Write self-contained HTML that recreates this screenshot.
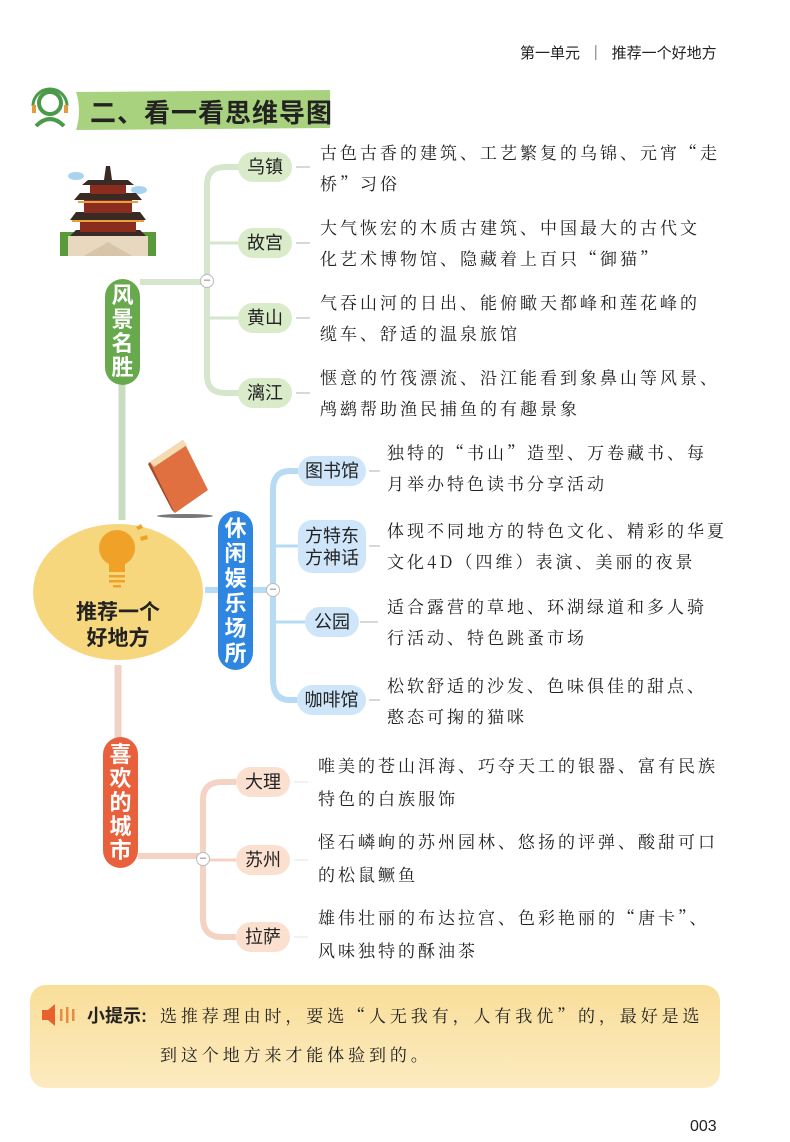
<!DOCTYPE html>
<html><head><meta charset="utf-8"><style>
*{margin:0;padding:0;box-sizing:border-box}
body{width:790px;height:1142px;background:#fff;position:relative;overflow:hidden;font-family:"Liberation Sans","Noto Sans CJK SC",sans-serif}
.a{position:absolute}
.d{position:absolute;font-family:"Noto Serif CJK SC","Liberation Serif",serif;font-size:17px;letter-spacing:3px;line-height:31px;color:#222;white-space:nowrap}
.n{position:absolute;font-size:18px;color:#222;text-align:center;border-radius:16px;display:flex;align-items:center;justify-content:center;line-height:22px}
.g{background:#d9ebc9}.b{background:#cfe6fa}.r{background:#fbe0d0}
.v{position:absolute;color:#fff;font-weight:bold;font-size:22px;line-height:24px;text-align:center;border-radius:18px;display:flex;flex-direction:column;align-items:center;justify-content:center}
.m{position:absolute;width:14px;height:14px;border-radius:50%;background:#fff;border:1.5px solid #bbb;font-size:11px;line-height:10px;text-align:center;color:#666}
</style></head><body>
<div class="a" style="left:520px;top:42px;font-size:15px;color:#222;white-space:nowrap">第一单元 &nbsp;｜ &nbsp;推荐一个好地方</div>

<svg class="a" style="left:0;top:0" width="790" height="1142">
<circle cx="50" cy="103" r="11" fill="none" stroke="#4a9a4a" stroke-width="4"/>
<path d="M33 106 a17 17 0 0 1 34 0" fill="none" stroke="#4a9a4a" stroke-width="3"/>
<rect x="32" y="105" width="4" height="8" fill="#e49a3a"/><rect x="64" y="105" width="4" height="8" fill="#e49a3a"/>
<path d="M36 126 q14 -14 28 0" fill="none" stroke="#4a9a4a" stroke-width="4"/>
<path d="M76 92 L330 90 L330 128 L76 130 Q82 111 76 92Z" fill="#a9d27f"/>
<line x1="122" y1="385" x2="122" y2="520" stroke="#c9dcc0" stroke-width="7"/>
<line x1="118" y1="665" x2="118" y2="738" stroke="#f1d2c6" stroke-width="7"/>
<path d="M140 282 H207" stroke="#d6e6cc" stroke-width="6" fill="none"/>
<path d="M240 167 H225 Q207 167 207 185 V375 Q207 393 225 393 H240" stroke="#d6e6cc" stroke-width="6" fill="none"/>
<path d="M207 243 H238 M207 318 H238" stroke="#d6e6cc" stroke-width="3"/>
<path d="M296 167 H310 M296 243 H310 M296 318 H310 M296 393 H310" stroke="#ccc" stroke-width="1.5"/>
<path d="M205 590 H218 M253 590 H273" stroke="#b8dbf5" stroke-width="6"/>
<path d="M298 471 H290 Q273 471 273 490 V680 Q273 700 290 700 H298" stroke="#b8dbf5" stroke-width="6" fill="none"/>
<path d="M273 546 H298 M273 622 H305" stroke="#b8dbf5" stroke-width="3"/>
<path d="M369 471 H380 M369 546 H380 M360 622 H378 M369 700 H380" stroke="#ccc" stroke-width="1.5"/>
<path d="M138 856 H203" stroke="#f4d3c4" stroke-width="6"/>
<path d="M236 782 H222 Q203 782 203 800 V918 Q203 937 222 937 H236" stroke="#f4d3c4" stroke-width="6" fill="none"/>
<path d="M203 860 H236" stroke="#f4d3c4" stroke-width="3"/>
<path d="M294 782 H308 M294 860 H308 M294 937 H308" stroke="#eee" stroke-width="1.5"/>
<ellipse cx="118" cy="592" rx="85" ry="68" fill="#f6d77e"/>
<circle cx="117" cy="548" r="18" fill="#f0a128"/>
<rect x="109" y="560" width="16" height="12" fill="#f0a128"/>
<rect x="109" y="575" width="16" height="2.5" fill="#f0a128"/><rect x="109" y="580" width="16" height="2.5" fill="#f0a128"/><rect x="113" y="585" width="8" height="2.5" fill="#f0a128"/>
<path d="M136 527 l5 -3 l2 4 l-5 2z M140 537 l7 -2 l1 4 l-7 2z" fill="#f0a128"/>
<ellipse cx="185" cy="516" rx="28" ry="2" fill="#777"/>
<path d="M150 462 L183 440 L208 490 L175 513Z" fill="#e07040"/>
<path d="M150 462 L183 440 L187 445 L154 467Z" fill="#f3dcb0"/>
<path d="M150 462 L175 513 L172 510 L148 464Z" fill="#a84a28"/>
<ellipse cx="76" cy="176" rx="8" ry="4" fill="#a8d4f0"/>
<ellipse cx="139" cy="190" rx="8" ry="4" fill="#a8d4f0"/>
<path d="M60 232 H156 V256 H60Z" fill="#5a9a3a"/>
<path d="M68 236 H148 V256 H68Z" fill="#e8d8c0"/>
<path d="M70 236 H146 L140 230 H76Z" fill="#3a2a25"/>
<path d="M80 218 H136 V232 H80Z" fill="#8b2d1e"/>
<path d="M76 212 H140 L146 220 H70Z" fill="#3a2a25"/>
<path d="M84 198 H132 V213 H84Z" fill="#8b2d1e"/>
<path d="M80 193 H136 L142 200 H74Z" fill="#3a2a25"/>
<path d="M90 182 H126 V194 H90Z" fill="#8b2d1e"/>
<path d="M88 180 H128 L134 185 H82Z" fill="#3a2a25"/>
<path d="M106 166 L110 166 L112 180 H104Z" fill="#3a2a25"/>
<path d="M72 221 H144 M78 202 H138" stroke="#e8a040" stroke-width="2"/>
<path d="M84 256 L108 242 L132 256Z" fill="#d8c4a8"/>
</svg>
<div class="a" style="left:90px;top:93px;font-size:26px;font-weight:bold;color:#222;letter-spacing:1px">二、看一看思维导图</div>

<div class="m" style="left:200px;top:274px">–</div>
<div class="m" style="left:266px;top:583px">–</div>
<div class="m" style="left:196px;top:852px">–</div>

<div class="v" style="left:105px;top:279px;width:35px;height:106px;background:#68a94e">风<br>景<br>名<br>胜</div>
<div class="v" style="left:218px;top:511px;width:35px;height:159px;background:#2e86e0;line-height:25px">休<br>闲<br>娱<br>乐<br>场<br>所</div>
<div class="v" style="left:103px;top:737px;width:35px;height:131px;background:#e8613c">喜<br>欢<br>的<br>城<br>市</div>

<div class="a" style="left:33px;top:600px;width:170px;text-align:center;font-size:21px;font-weight:bold;line-height:26px;color:#222">推荐一个<br>好地方</div>

<div class="n g" style="left:238px;top:152px;width:54px;height:30px">乌镇</div>
<div class="n g" style="left:238px;top:228px;width:54px;height:30px">故宫</div>
<div class="n g" style="left:238px;top:303px;width:54px;height:30px">黄山</div>
<div class="n g" style="left:238px;top:378px;width:54px;height:30px">漓江</div>
<div class="d" style="left:320px;top:136px">古色古香的建筑、工艺繁复的乌锦、元宵“走<br>桥”习俗</div>
<div class="d" style="left:320px;top:211px">大气恢宏的木质古建筑、中国最大的古代文<br>化艺术博物馆、隐藏着上百只“御猫”</div>
<div class="d" style="left:320px;top:286px">气吞山河的日出、能俯瞰天都峰和莲花峰的<br>缆车、舒适的温泉旅馆</div>
<div class="d" style="left:320px;top:361px">惬意的竹筏漂流、沿江能看到象鼻山等风景、<br>鸬鹚帮助渔民捕鱼的有趣景象</div>

<div class="n b" style="left:298px;top:456px;width:68px;height:30px">图书馆</div>
<div class="n b" style="left:298px;top:520px;width:68px;height:53px;border-radius:14px">方特东<br>方神话</div>
<div class="n b" style="left:305px;top:607px;width:54px;height:30px">公园</div>
<div class="n b" style="left:297px;top:685px;width:69px;height:30px">咖啡馆</div>
<div class="d" style="left:387px;top:436px">独特的“书山”造型、万卷藏书、每<br>月举办特色读书分享活动</div>
<div class="d" style="left:387px;top:514px">体现不同地方的特色文化、精彩的华夏<br>文化4D（四维）表演、美丽的夜景</div>
<div class="d" style="left:387px;top:590px">适合露营的草地、环湖绿道和多人骑<br>行活动、特色跳蚤市场</div>
<div class="d" style="left:387px;top:669px">松软舒适的沙发、色味俱佳的甜点、<br>憨态可掬的猫咪</div>

<div class="n r" style="left:236px;top:767px;width:54px;height:30px">大理</div>
<div class="n r" style="left:236px;top:845px;width:54px;height:30px">苏州</div>
<div class="n r" style="left:236px;top:922px;width:54px;height:30px">拉萨</div>
<div class="d" style="left:318px;top:748px;line-height:33px">唯美的苍山洱海、巧夺天工的银器、富有民族<br>特色的白族服饰</div>
<div class="d" style="left:318px;top:824px;line-height:33px">怪石嶙峋的苏州园林、悠扬的评弹、酸甜可口<br>的松鼠鳜鱼</div>
<div class="d" style="left:318px;top:900px;line-height:33px">雄伟壮丽的布达拉宫、色彩艳丽的“唐卡”、<br>风味独特的酥油茶</div>

<div class="a" style="left:30px;top:985px;width:690px;height:103px;border-radius:16px;background:linear-gradient(180deg,#f9de9a,#fcebc0)"></div>
<svg class="a" style="left:42px;top:1004px" width="34" height="22"><path d="M0 6 H6 L13 0 V22 L6 16 H0Z" fill="#e8602c"/><rect x="18" y="5" width="2.5" height="12" fill="#e88a40"/><rect x="24" y="3" width="2.5" height="16" fill="#e88a40"/><rect x="30" y="5" width="2.5" height="12" fill="#e88a40"/></svg>
<div class="a" style="left:87px;top:1002px;font-size:18px;font-weight:bold;color:#222">小提示:</div>
<div class="d" style="left:160px;top:995px;line-height:39px;font-size:17px;letter-spacing:3.9px">选推荐理由时，要选“人无我有，人有我优”的，最好是选<br>到这个地方来才能体验到的。</div>

<div class="a" style="left:690px;top:1118px;font-size:16px;color:#222">003</div>
</body></html>
